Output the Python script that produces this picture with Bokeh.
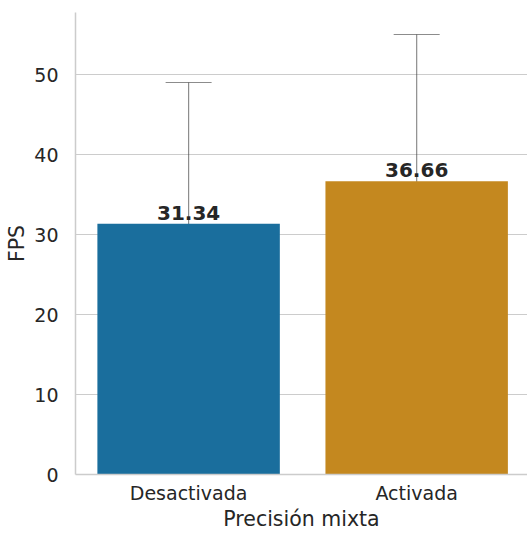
from bokeh.plotting import figure
from bokeh.models import Range1d, FixedTicker, ColumnDataSource, Whisker, TeeHead, LabelSet
from bokeh.core.properties import value
from bokeh.embed import file_html
from bokeh.resources import INLINE

categories = ["Desactivada", "Activada"]
fps_mean = [31.34, 36.66]
err_low = [13.8, 18.4]
err_high = [49.0, 55.0]
bar_colors = ["#1a6e9d", "#c4881f"]
y_ticks = [0, 10, 20, 30, 40, 50]
x_title = "Precisión mixta"
y_title = "FPS"

xs = list(range(len(categories)))
src = ColumnDataSource(dict(
    x=xs, top=fps_mean, lower=err_low, upper=err_high, color=bar_colors,
    label=[f"{v:.2f}" for v in fps_mean],
))

FONT = "DejaVu Sans"
TXT = "#262626"
GRID = "#cccccc"

p = figure(width=527, height=534, output_backend="svg", toolbar_location=None,
           x_range=Range1d(-0.496, 1.486), y_range=Range1d(0, 57.75),
           min_border_left=75, min_border_right=0, min_border_top=12, min_border_bottom=60)
p.outline_line_color = None
p.background_fill_color = "white"
p.border_fill_color = "white"

p.vbar(x="x", top="top", width=0.8, bottom=0, color="color", line_color=None, source=src)

ERR = "#404040"
wh = Whisker(base="x", lower="lower", upper="upper", source=src,
             line_color=ERR, line_alpha=0.6, line_width=1.2,
             upper_head=TeeHead(size=46, line_color=ERR, line_alpha=0.6, line_width=1.2),
             lower_head=TeeHead(size=46, line_color=ERR, line_alpha=0.6, line_width=1.2))
p.add_layout(wh)

labels = LabelSet(x="x", y="top", text="label", source=src, text_align="center",
                  text_baseline="alphabetic", y_offset=4, text_font=value(FONT),
                  text_font_size="20px", text_font_style="bold", text_color=TXT)
p.add_layout(labels)

p.xaxis.ticker = FixedTicker(ticks=xs)
p.xaxis.major_label_overrides = {i: c for i, c in zip(xs, categories)}
p.yaxis.ticker = FixedTicker(ticks=y_ticks)

for ax in (p.xaxis, p.yaxis):
    ax.axis_line_color = GRID
    ax.axis_line_width = 1.5
    ax.major_tick_line_color = None
    ax.minor_tick_line_color = None
    ax.major_tick_out = 0
    ax.major_tick_in = 0
    ax.major_label_text_font = FONT
    ax.major_label_text_font_size = "19px"
    ax.major_label_text_color = TXT
    ax.major_label_text_line_height = 1.0
    ax.axis_label_text_font = FONT
    ax.axis_label_text_font_size = "20.5px"
    ax.axis_label_text_font_style = "normal"
    ax.axis_label_text_color = TXT
    ax.axis_label_text_line_height = 1.0

p.xaxis.axis_label = x_title
p.yaxis.axis_label = y_title
p.xaxis.major_label_standoff = 7
p.xaxis.axis_label_standoff = 0
p.yaxis.major_label_standoff = 17
p.yaxis.axis_label_standoff = 2

p.xgrid.grid_line_color = None
p.ygrid.grid_line_color = GRID
p.ygrid.grid_line_width = 1.2
p.ygrid.level = "underlay"

open("out.html", "w").write(file_html(p, INLINE))
